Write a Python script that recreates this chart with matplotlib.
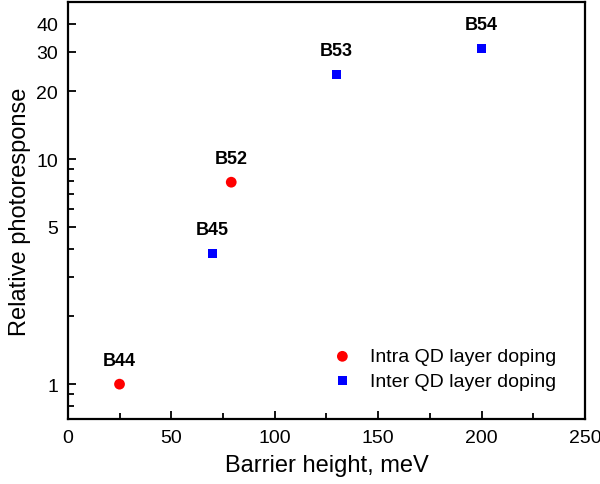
import matplotlib
matplotlib.use('Agg')
import matplotlib.pyplot as plt
from matplotlib.ticker import FixedLocator, NullFormatter

plt.rcParams['font.family'] = ['Liberation Sans', 'DejaVu Sans']

# intra QD layer doping (red circles)
intra_x = [25, 79]
intra_y = [1.0, 7.9]
intra_names = ['B44', 'B52']

# inter QD layer doping (blue squares)
inter_x = [70, 130, 200]
inter_y = [3.8, 23.8, 31.0]
inter_names = ['B45', 'B53', 'B54']

y_major = [1, 5, 10, 20, 30, 40]
y_minor = [0.8, 0.9, 2, 3, 4, 6, 7, 8, 9]

fig = plt.figure(figsize=(6, 4.85), dpi=100)
ax = fig.add_axes([0.113, 0.134, 0.862, 0.86])

ax.scatter(intra_x, intra_y, s=60, marker='o', color='#ff0000',
           edgecolors='none', label='Intra QD layer doping', zorder=3)
ax.scatter(inter_x, inter_y, s=42, marker='s', color='#0000ff',
           edgecolors='none', label='Inter QD layer doping', zorder=3)

for x, y, name in zip(intra_x + inter_x, intra_y + inter_y, intra_names + inter_names):
    ax.annotate(name, (x, y), xytext=(0, 11), textcoords='offset points',
                ha='center', va='bottom', fontsize=13, fontweight='bold')

ax.set_yscale('log')
ax.set_xlim(0, 250)
ax.set_ylim(0.7, 50)
ax.yaxis.set_major_locator(FixedLocator(y_major))
ax.yaxis.set_minor_locator(FixedLocator(y_minor))
ax.set_yticklabels([str(v) for v in y_major])
ax.yaxis.set_minor_formatter(NullFormatter())
ax.set_xticks([0, 50, 100, 150, 200, 250])
ax.set_xticks([25, 75, 125, 175, 225], minor=True)

ax.tick_params(which='both', direction='in', top=False, right=False,
               width=1.3, labelsize=14)
ax.tick_params(which='major', length=6, pad=7)
ax.tick_params(which='minor', length=4)
for sp in ax.spines.values():
    sp.set_linewidth(1.6)

ax.set_xlabel('Barrier height, meV', fontsize=17, labelpad=6)
ax.set_ylabel('Relative photoresponse', fontsize=17, labelpad=4)

ax.legend(loc='lower right', frameon=False, fontsize=14, handletextpad=0.9,
          borderaxespad=1.1, labelspacing=0.35, scatterpoints=1,
          handlelength=1.0)

fig.savefig('out.png', dpi=100)
